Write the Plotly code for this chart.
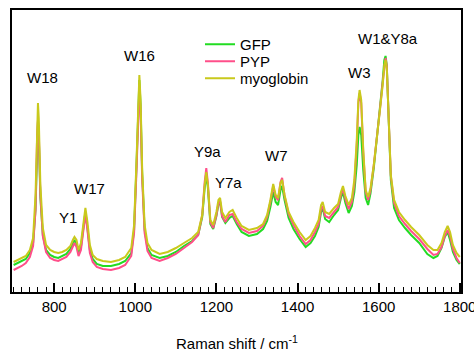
import plotly.graph_objects as go

raman_shift = [
    700, 710, 720, 730, 740, 748, 754, 758, 760, 762,
    766, 772, 780, 790, 800, 810, 820, 830, 840, 846,
    850, 855, 860, 866, 872, 877, 882, 888, 895, 905,
    920, 940, 960, 975, 990, 997, 1003, 1007, 1010, 1013,
    1017, 1023, 1030, 1040, 1060, 1080, 1100, 1120, 1140, 1155,
    1165, 1171, 1175, 1179, 1185, 1192, 1200, 1205, 1209, 1214,
    1222, 1232, 1240, 1250, 1262, 1280, 1300, 1315, 1325, 1333,
    1340, 1346, 1352, 1358, 1362, 1368, 1378, 1390, 1405, 1420,
    1432, 1443, 1452, 1458, 1462, 1468, 1478, 1490, 1500, 1507,
    1512, 1518, 1526, 1534, 1540, 1546, 1550, 1553, 1557, 1562,
    1568, 1574, 1580, 1588, 1596, 1603, 1610, 1614, 1617, 1620,
    1624, 1630, 1638, 1650, 1665, 1680, 1700, 1720, 1735, 1745,
    1755, 1763, 1770, 1776, 1783, 1792, 1800,
]

gfp = [
    27, 29, 31, 33, 39, 49, 82, 152, 170, 156,
    94, 57, 42, 37, 35, 34, 36, 38, 43, 49,
    52, 48, 39, 45, 62, 80, 64, 42, 33, 28,
    26, 26, 28, 31, 39, 62, 127, 188, 212, 187,
    117, 62, 44, 37, 34, 36, 40, 46, 51, 57,
    75, 104, 117, 104, 68, 63, 76, 88, 90, 75,
    69, 74, 76, 68, 60, 56, 58, 63, 71, 85,
    100, 90, 87, 102, 106, 92, 74, 63, 53, 45,
    49, 56, 65, 80, 84, 73, 70, 77, 82, 94,
    100, 89, 79, 86, 100, 127, 157, 165, 157, 122,
    94, 87, 99, 124, 155, 180, 212, 232, 236, 227,
    182, 112, 84, 72, 64, 57, 49, 38, 34, 36,
    44, 55, 60, 52, 40, 32, 28,
]

pyp = [
    22, 24, 26, 29, 35, 46, 82, 157, 172, 160,
    97, 56, 40, 34, 32, 31, 33, 35, 40, 46,
    49, 45, 36, 42, 60, 78, 62, 39, 30, 25,
    23, 22, 24, 27, 36, 59, 122, 182, 204, 180,
    112, 59, 41, 34, 31, 34, 38, 44, 50, 57,
    77, 110, 124, 109, 70, 64, 77, 89, 91, 76,
    70, 77, 78, 70, 63, 59, 61, 66, 75, 90,
    106, 95, 92, 110, 114, 96, 78, 67, 56, 48,
    52, 60, 68, 83, 86, 76, 74, 80, 85, 97,
    103, 93, 83, 90, 107, 147, 189, 199, 189, 140,
    100, 92, 102, 127, 160, 182, 210, 228, 234, 226,
    184, 116, 89, 76, 68, 61, 53, 43, 37, 38,
    45, 56, 62, 56, 43, 34, 29,
]

myoglobin = [
    30, 32, 34, 36, 42, 54, 97, 172, 189, 174,
    107, 64, 47, 42, 40, 39, 40, 42, 46, 52,
    55, 52, 42, 49, 67, 84, 70, 47, 37, 33,
    31, 30, 32, 35, 44, 67, 132, 192, 217, 192,
    122, 67, 49, 42, 38, 40, 44, 49, 54, 60,
    77, 107, 120, 107, 72, 67, 80, 92, 94, 80,
    74, 80, 82, 74, 66, 62, 64, 68, 77, 92,
    108, 97, 94, 109, 112, 97, 80, 70, 60, 52,
    56, 64, 72, 87, 90, 80, 78, 84, 88, 100,
    106, 96, 87, 94, 112, 152, 192, 202, 192, 142,
    102, 95, 104, 127, 157, 177, 207, 227, 232, 224,
    182, 117, 92, 80, 72, 65, 57, 47, 42, 42,
    49, 60, 66, 60, 47, 39, 35,
]

band_labels = ["W18", "Y1", "W17", "W16", "Y9a", "Y7a", "W7", "W3", "W1&Y8a"]
band_x = [772, 835, 886, 1011, 1177, 1229, 1349, 1553, 1624]
band_y = [215, 75, 104, 237, 141, 110, 137, 220, 254]

tick_vals = [800, 1000, 1200, 1400, 1600, 1800]

FONT = "Arial, 'Liberation Sans', sans-serif"

fig = go.Figure()
series = [
    ("GFP", gfp, "#22dc22", "legend", 46),
    ("PYP", pyp, "#ff4f8a", "legend2", 63),
    ("myoglobin", myoglobin, "#c9c91c", "legend3", 80),
]
legend_layouts = {}
for name, ys, col, leg, cy in series:
    fig.add_trace(go.Scatter(x=raman_shift, y=ys, mode="lines", name=name,
                             legend=leg, line=dict(color=col, width=2)))
    legend_layouts[leg] = dict(
        x=(200 - 12) / 449, y=1 - (cy - 18 - 10) / 282,
        xanchor="left", yanchor="top", bgcolor="rgba(0,0,0,0)",
        font=dict(family=FONT, size=15, color="black"))

for lab, bx, by in zip(band_labels, band_x, band_y):
    fig.add_annotation(x=bx, y=by, text=lab, showarrow=False,
                       font=dict(family=FONT, size=15, color="black"),
                       xanchor="center", yanchor="middle")

fig.add_annotation(xref="paper", yref="paper", x=0.5, y=-50 / 282,
                   text="Raman shift / cm<sup>-1</sup>", showarrow=False,
                   font=dict(family=FONT, size=15, color="black"),
                   xanchor="center", yanchor="middle")

fig.update_layout(
    width=474, height=350,
    margin=dict(l=12, r=13, t=10, b=58, autoexpand=False),
    paper_bgcolor="white", plot_bgcolor="white",
    font=dict(family=FONT, size=15, color="black"),
    showlegend=True,
    xaxis=dict(range=[696, 1803], showgrid=False, zeroline=False,
               automargin=False,
               showline=True, linecolor="black", linewidth=2, mirror=True,
               ticks="inside", ticklen=9, tickwidth=1.5, tickcolor="black",
               tickvals=tick_vals, ticktext=[str(v) for v in tick_vals],
               ticklabeloverflow="allow",
               tickfont=dict(family=FONT, size=15, color="black"),
               minor=dict(dtick=20, tick0=700, ticks="inside", ticklen=5,
                          tickwidth=1.2, tickcolor="black", showgrid=False)),
    yaxis=dict(range=[0, 282], showgrid=False, zeroline=False,
               automargin=False,
               showline=True, linecolor="black", linewidth=2, mirror=True,
               showticklabels=False, ticks=""),
    **legend_layouts,
)

fig.write_html("out.html")
